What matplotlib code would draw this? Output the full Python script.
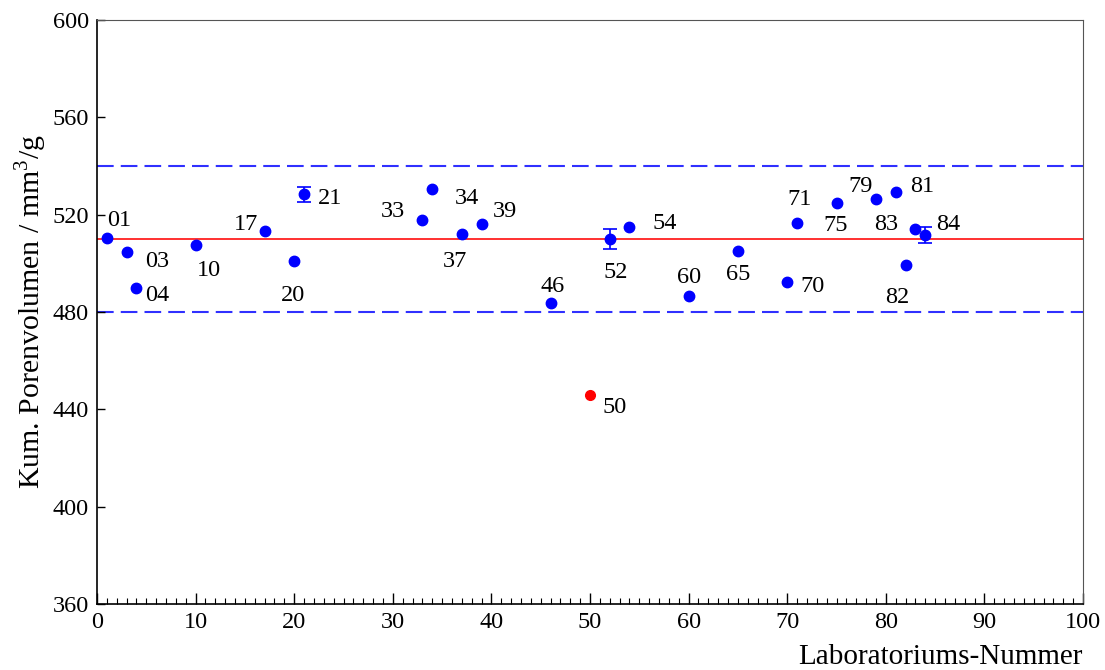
import matplotlib
matplotlib.use('Agg')
from matplotlib import pyplot as plt

plt.rcParams['font.family'] = ['Liberation Serif', 'DejaVu Serif']
plt.rcParams['mathtext.fontset'] = 'custom'
plt.rcParams['mathtext.rm'] = 'Liberation Serif'

# lab data
labs = [1, 3, 4, 10, 17, 20, 21, 33, 34, 37, 39, 46, 52, 54, 60, 65, 70, 71, 75, 79, 81, 82, 83, 84]
values = [510.5, 504.8, 489.8, 507.5, 513.3, 501.1, 528.4, 517.8, 530.4, 512.2, 516.3, 483.8,
          509.9, 515.0, 486.6, 505.1, 492.3, 516.7, 524.9, 526.3, 529.2, 499.2, 514.1, 511.6]
errors = [0, 0, 0, 0, 0, 0, 3.0, 0, 0, 0, 0, 0,
          4.2, 0, 0, 0, 0, 0, 0, 0, 0, 0, 0, 3.4]
labels = ['01', '03', '04', '10', '17', '20', '21', '33', '34', '37', '39', '46',
          '52', '54', '60', '65', '70', '71', '75', '79', '81', '82', '83', '84']

outlier_lab = 50
outlier_value = 445.9

mean_value = 510
lower_limit = 480
upper_limit = 540

# label offsets in pixels (dx right, dy down)
label_offsets = {
    '01': (12, -20), '03': (31, 7), '04': (21, 5), '10': (13, 23), '17': (-19, -9),
    '20': (-1, 32), '21': (26, 2), '33': (-29, -11), '34': (35, 7), '37': (-7, 25),
    '39': (23, -15), '46': (2, -19), '52': (6, 31), '54': (35, -6), '60': (0, -21),
    '65': (0, 21), '70': (25, 2), '71': (3, -26), '75': (-1, 20), '79': (-15, -15),
    '81': (27, -8), '82': (-8, 30), '83': (-29, -7), '84': (23, -13), '50': (25, 10),
}

fig = plt.figure(figsize=(11.05, 6.70), dpi=100)
ax = fig.add_axes([97 / 1105, 1 - 604 / 670, (1083 - 97) / 1105, (604 - 20) / 670])

ax.axhline(mean_value, color='#ff2020', lw=1.3, zorder=1)
ax.axhline(upper_limit, color='#3030ff', lw=1.5, dashes=(8, 3.4), zorder=1)
ax.axhline(lower_limit, color='#3030ff', lw=1.5, dashes=(8, 3.4), zorder=1)

ax.plot(labs, values, 'o', color='#0000ff', ms=7.5, zorder=3)
err_x = [x for x, e in zip(labs, errors) if e > 0]
err_y = [y for y, e in zip(values, errors) if e > 0]
err_e = [e for e in errors if e > 0]
ax.errorbar(err_x, err_y, yerr=err_e, fmt='none', ecolor='#0000ff', elinewidth=1.2,
            capsize=5, capthick=1.2, zorder=3)
ax.plot([outlier_lab], [outlier_value], 'o', color='#ff0000', ms=7, zorder=3)

for x, y, lab in zip(labs + [outlier_lab], values + [outlier_value], labels + ['50']):
    dx, dy = label_offsets[lab]
    ax.annotate(lab, (x, y), xytext=(dx * 0.72, -dy * 0.72), textcoords='offset points',
                ha='center', va='center_baseline', fontsize=17.5)

ax.set_xlim(0, 100)
ax.set_ylim(360, 600)
ax.set_xticks(range(0, 101, 10))
ax.set_xticks(range(0, 101, 1), minor=True)
ax.set_yticks(range(360, 601, 40))
ax.tick_params(axis='x', which='major', direction='in', length=8, width=1, labelsize=17.5, pad=6)
ax.tick_params(axis='x', which='minor', direction='in', length=4.5, width=0.8)
ax.tick_params(axis='y', which='major', direction='in', length=6, width=1, labelsize=17.5, pad=6)

for side in ['top', 'right']:
    ax.spines[side].set_color('#555555')
for side in ['left', 'bottom']:
    ax.spines[side].set_linewidth(1.2)

ax.set_xlabel('Laboratoriums-Nummer', loc='right', fontsize=21, labelpad=8)
ax.set_ylabel(r'Kum. Porenvolumen / mm$^\mathregular{3}$/g', fontsize=21.5, labelpad=2)

plt.savefig('out.png', dpi=100)
